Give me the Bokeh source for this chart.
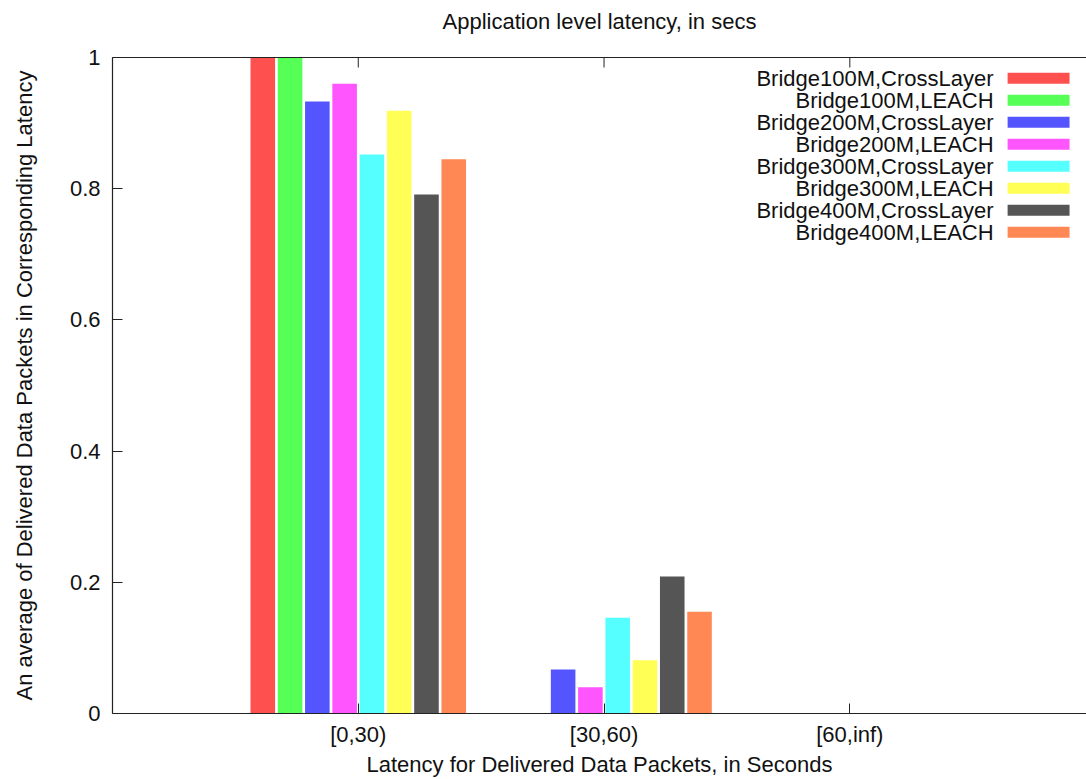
from bokeh.plotting import figure
from bokeh.models import Range1d, FixedTicker, ColumnDataSource, LinearAxis
from bokeh.embed import file_html
from bokeh.resources import INLINE
from bokeh.core.properties import value

# Latency buckets (x categories)
categories = ["[0,30)", "[30,60)", "[60,inf)"]

# Series names and their fill colours
series = [
    "Bridge100M,CrossLayer",
    "Bridge100M,LEACH",
    "Bridge200M,CrossLayer",
    "Bridge200M,LEACH",
    "Bridge300M,CrossLayer",
    "Bridge300M,LEACH",
    "Bridge400M,CrossLayer",
    "Bridge400M,LEACH",
]
colors = ["#ff5050", "#55ff55", "#5555ff", "#ff55ff",
          "#55ffff", "#ffff55", "#555555", "#ff8855"]

# Average fraction of delivered packets per latency bucket
b100_cross = [1.000, 0.000, 0.000]
b100_leach = [1.000, 0.000, 0.000]
b200_cross = [0.933, 0.067, 0.000]
b200_leach = [0.960, 0.040, 0.000]
b300_cross = [0.852, 0.146, 0.000]
b300_leach = [0.919, 0.081, 0.000]
b400_cross = [0.791, 0.209, 0.000]
b400_leach = [0.845, 0.155, 0.000]
values = [b100_cross, b100_leach, b200_cross, b200_leach,
          b300_cross, b300_leach, b400_cross, b400_leach]

y_ticks = [0, 0.2, 0.4, 0.6, 0.8, 1]
y_tick_labels = ["0", "0.2", "0.4", "0.6", "0.8", "1"]

TITLE = "Application level latency, in secs"
FONT = "Liberation Sans"
FS = "22px"
AXIS_COLOR = "#222222"
TEXT_COLOR = "#111111"

p = figure(
    width=1086, height=779,
    x_range=Range1d(-1, 2.963), y_range=Range1d(0, 1),
    output_backend="svg", toolbar_location=None,
    min_border_left=112, min_border_right=0, min_border_top=57, min_border_bottom=0,
    background_fill_color="white", border_fill_color="white",
)
p.outline_line_color = None
p.grid.visible = False

# bottom axis with category labels
xa = p.xaxis[0]
xa.ticker = FixedTicker(ticks=list(range(len(categories))))
xa.major_label_overrides = {i: c for i, c in enumerate(categories)}
xa.axis_label = "Latency for Delivered Data Packets, in Seconds"

# left axis
ya = p.yaxis[0]
ya.ticker = FixedTicker(ticks=y_ticks)
ya.major_label_overrides = {t: l for t, l in zip(y_ticks, y_tick_labels)}
ya.axis_label = "An average of Delivered Data Packets in Corresponding Latency"

# top border; its axis label carries the chart title
top = LinearAxis(ticker=FixedTicker(ticks=[]), axis_label=TITLE)
p.add_layout(top, "above")

for ax in (xa, ya, top):
    ax.axis_line_color = AXIS_COLOR
    ax.axis_line_width = 1.2
    ax.major_tick_line_color = AXIS_COLOR
    ax.major_tick_in = 10
    ax.major_tick_out = 0
    ax.minor_tick_line_color = None
    ax.major_label_text_font = FONT
    ax.major_label_text_font_size = FS
    ax.major_label_text_color = TEXT_COLOR
    ax.axis_label_text_font = FONT
    ax.axis_label_text_font_size = FS
    ax.axis_label_text_font_style = "normal"
    ax.axis_label_text_color = TEXT_COLOR
xa.major_label_standoff = 8
xa.axis_label_standoff = 2
ya.major_label_standoff = 12
ya.axis_label_standoff = 30
top.major_label_standoff = 0
top.axis_label_standoff = 24

# mirrored category ticks along the top border
tick_len = 10 / 656
cat_pos = list(range(len(categories)))
p.segment(x0=cat_pos, x1=cat_pos, y0=[1] * len(cat_pos),
          y1=[1 - tick_len] * len(cat_pos), line_color=AXIS_COLOR, line_width=1)

# grouped bars
n = len(series)
step = 0.111
bar_w = 0.1
for i, (name, col, vals) in enumerate(zip(series, colors, values)):
    off = (i - (n - 1) / 2) * step
    src = ColumnDataSource(dict(x=[k + off for k in range(len(categories))], top=vals))
    p.vbar(x="x", top="top", bottom=0, width=bar_w, source=src,
           fill_color=col, line_color=None)

# key in the upper right: text right-aligned, colour swatch to its right
key_text_x = 2.585
key_sw_left, key_sw_right = 2.642, 2.894
key_y0 = 0.9685
key_dy = 0.03354
key_h = 0.0168
ys = [key_y0 - i * key_dy for i in range(n)]
p.text(x=[key_text_x] * n, y=ys, text=series,
       text_align="right", text_baseline="middle",
       text_font=value(FONT), text_font_size=FS, text_color=TEXT_COLOR)
p.quad(left=[key_sw_left] * n, right=[key_sw_right] * n,
       bottom=[y - key_h / 2 for y in ys], top=[y + key_h / 2 for y in ys],
       fill_color=colors, line_color=None)

open("out.html", "w").write(file_html(p, INLINE))
